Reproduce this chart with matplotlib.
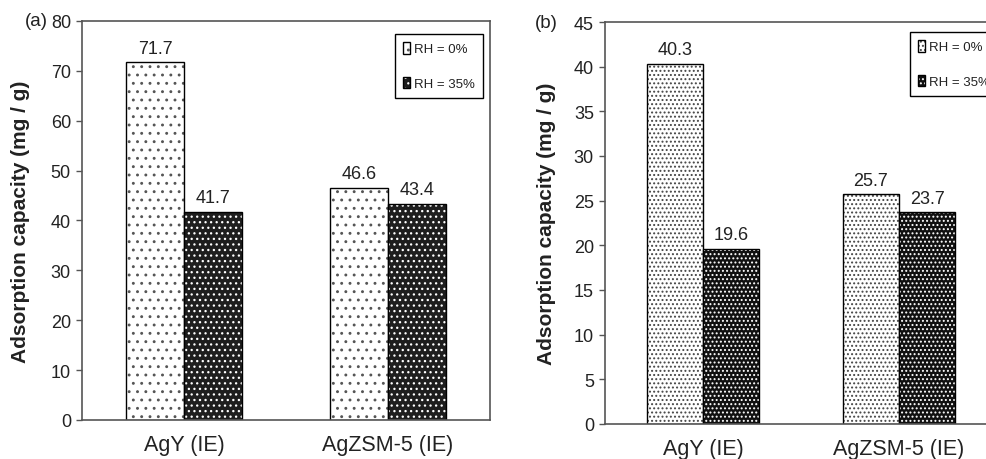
import matplotlib
matplotlib.use('Agg')

import matplotlib.pyplot as plt
from matplotlib.patches import Patch

plt.rcParams['font.family'] = ['Liberation Sans', 'DejaVu Sans']
plt.rcParams['hatch.linewidth'] = 0.9

categories = ['AgY (IE)', 'AgZSM-5 (IE)']
series_labels = ['RH = 0%', 'RH = 35%']

a_rh0 = [71.7, 46.6]
a_rh35 = [41.7, 43.4]
b_rh0 = [40.3, 25.7]
b_rh35 = [19.6, 23.7]

a_yticks = list(range(0, 81, 10))
b_yticks = list(range(0, 46, 5))

TEXT = '#222222'
SPINE = '#555555'


def hatched_bar(ax, x, h, width, face, hcol, hatch):
    ax.bar(x, h, width, align='edge', color=face, edgecolor=hcol, hatch=hatch, linewidth=0)
    ax.bar(x, h, width, align='edge', color='none', edgecolor='black', linewidth=1.0)


def draw_panel(ax, rh0, rh35, yticks, styles, width, tag, tag_x, legend_anchor, legend_loc, ylab_x):
    xs = list(range(len(categories)))
    hatched_bar(ax, [x - width for x in xs], rh0, width, *styles[0])
    hatched_bar(ax, xs, rh35, width, *styles[1])

    for x, v in zip(xs, rh0):
        ax.annotate(f'{v:.1f}', (x - width / 2, v), xytext=(0, 4), textcoords='offset points',
                    ha='center', va='bottom', fontsize=13, color=TEXT)
    for x, v in zip(xs, rh35):
        ax.annotate(f'{v:.1f}', (x + width / 2, v), xytext=(0, 4), textcoords='offset points',
                    ha='center', va='bottom', fontsize=13, color=TEXT)

    ax.set_xlim(-0.5, 1.5)
    ax.set_ylim(yticks[0], yticks[-1])
    ax.set_yticks(yticks)
    ax.set_xticks(xs)
    ax.set_xticklabels(categories, fontsize=15.5, color=TEXT)
    ax.tick_params(axis='x', length=0, pad=10)
    ax.tick_params(axis='y', direction='out', length=4, width=1, colors=SPINE,
                   labelsize=13, labelcolor=TEXT, pad=4)
    for s in ax.spines.values():
        s.set_color(SPINE)
        s.set_linewidth(1.2)

    ax.set_ylabel('Adsorption capacity (mg / g)', fontsize=15, fontweight='bold', color=TEXT)
    ax.yaxis.set_label_coords(ylab_x, 0.5)

    ax.text(tag_x, 1.0, tag, transform=ax.transAxes, fontsize=13.5, color=TEXT,
            ha='left', va='center')

    handles = []
    for face, hcol, hatch in styles:
        handles.append((Patch(facecolor=face, edgecolor=hcol, hatch=hatch, linewidth=0),
                        Patch(facecolor='none', edgecolor='black', linewidth=1.0)))
    leg = ax.legend(handles, series_labels, loc=legend_loc, bbox_to_anchor=legend_anchor,
                    fontsize=9.5, frameon=True, fancybox=False, edgecolor='black',
                    framealpha=1, handlelength=0.55, handleheight=1.0, handletextpad=0.3,
                    labelspacing=1.6, borderpad=0.6, borderaxespad=0)
    leg.get_frame().set_linewidth(1.0)
    for t in leg.get_texts():
        t.set_color(TEXT)


fig = plt.figure(figsize=(9.86, 4.6), dpi=100)
ax1 = fig.add_axes([0.0832, 0.0848, 0.4138, 0.8674])
ax2 = fig.add_axes([0.6136, 0.0761, 0.3976, 0.8739])

styles_a = [('white', '#555555', '..'), ('#1e1e1e', 'white', '...')]
styles_b = [('white', '#444444', '....'), ('#111111', 'white', '....')]

draw_panel(ax1, a_rh0, a_rh35, a_yticks, styles_a, 0.284, '(a)', -0.14,
           (0.983, 0.967), 'upper right', -0.127)
draw_panel(ax2, b_rh0, b_rh35, b_yticks, styles_b, 0.288, '(b)', -0.18,
           (0.778, 0.975), 'upper left', -0.125)

fig.savefig('out.png', dpi=100)
plt.close(fig)
